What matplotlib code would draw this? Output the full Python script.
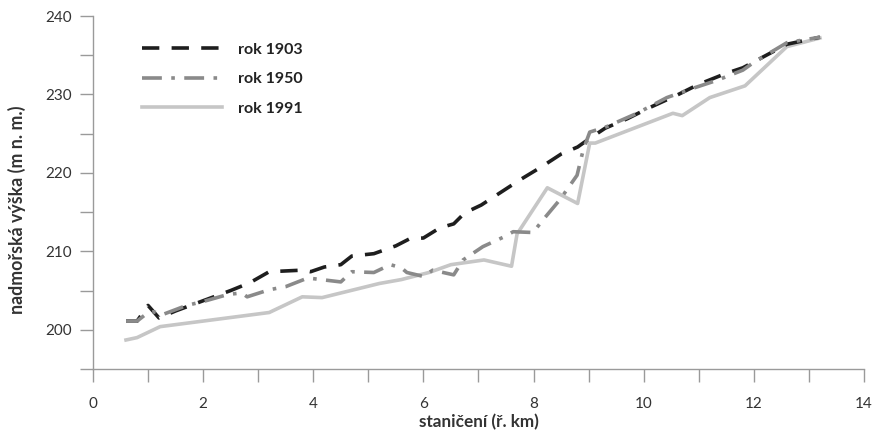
import matplotlib
matplotlib.use("Agg")
import matplotlib.pyplot as plt
from matplotlib.ticker import MultipleLocator, FuncFormatter

plt.rcParams['font.family'] = ['Lato', 'DejaVu Sans']

x1903 = [0.6, 0.8, 1.0, 1.2, 1.5, 2.0, 2.5, 2.85, 3.2, 3.8, 3.95, 4.2, 4.5, 4.7, 5.1, 5.5,
         5.75, 6.0, 6.3, 6.55, 6.75, 7.05, 7.4, 7.75, 8.15, 8.5, 8.8, 9.0, 9.3, 9.7, 10.1,
         10.6, 11.0, 11.5, 11.8, 12.6, 13.2]
y1903 = [201.1, 201.1, 203.1, 201.5, 202.4, 203.7, 205.0, 206.0, 207.4, 207.6, 207.4, 208.0,
         208.3, 209.4, 209.7, 210.7, 211.6, 211.7, 213.0, 213.5, 214.9, 215.9, 217.5, 219.1,
         220.8, 222.4, 223.3, 224.3, 225.7, 226.9, 228.3, 229.9, 231.3, 232.7, 233.4, 236.4,
         237.3]

x1950 = [0.6, 0.8, 1.0, 1.1, 1.25, 1.7, 2.0, 2.45, 2.7, 2.8, 3.2, 3.5, 3.9, 4.5, 4.7, 5.1,
         5.4, 5.6, 5.7, 6.0, 6.17, 6.55, 6.72, 7.08, 7.45, 7.63, 7.99, 8.17, 8.48, 8.79, 8.9,
         9.02, 9.33, 9.88, 10.42, 10.9, 11.33, 11.8, 11.98, 12.6, 13.2]
y1950 = [201.1, 201.1, 202.2, 202.3, 201.9, 203.1, 203.6, 204.5, 204.7, 204.2, 205.1, 205.5,
         206.6, 206.1, 207.4, 207.3, 208.3, 207.9, 207.3, 206.8, 207.6, 207.0, 208.9, 210.6,
         211.8, 212.5, 212.4, 214.0, 216.6, 219.7, 222.9, 225.2, 225.9, 227.6, 229.6, 230.8,
         231.8, 233.1, 234.0, 236.6, 237.3]

x1991 = [0.6, 0.8, 1.22, 3.2, 3.8, 4.16, 5.2, 5.6, 6.1, 6.5, 7.1, 7.6, 7.7, 8.25, 8.8, 9.02,
         9.12, 10.53, 10.7, 11.2, 11.84, 12.6, 13.2]
y1991 = [198.7, 199.0, 200.4, 202.2, 204.2, 204.1, 205.9, 206.4, 207.3, 208.3, 208.9, 208.1,
         212.2, 218.1, 216.1, 223.8, 223.8, 227.6, 227.3, 229.6, 231.1, 236.1, 237.2]

labels = ["rok 1903", "rok 1950", "rok 1991"]

fig = plt.figure(figsize=(8.73, 4.34), dpi=100)
ax = fig.add_axes([0.1065, 0.1498, 0.8832, 0.8133])

ax.plot(x1903, y1903, color="#1e1e1e", lw=2.6, dashes=(4.8, 3.4), label=labels[0], zorder=2,
        dash_capstyle='butt')
ax.plot(x1950, y1950, color="#8a8a8a", lw=2.6, dashes=(5.5, 2.6, 1.0, 2.6), label=labels[1], zorder=3,
        dash_capstyle='butt')
ax.plot(x1991, y1991, color="#c6c6c6", lw=2.6, label=labels[2], zorder=1)

ax.set_xlim(0, 14)
ax.set_ylim(195, 240)
ax.xaxis.set_major_locator(MultipleLocator(1))
ax.yaxis.set_major_locator(MultipleLocator(5))
ax.xaxis.set_major_formatter(FuncFormatter(lambda v, p: f"{int(round(v))}" if round(v) % 2 == 0 else ""))
ax.yaxis.set_major_formatter(FuncFormatter(lambda v, p: f"{int(round(v))}" if round(v) % 10 == 0 and v > 196 else ""))

for s in ["top", "right"]:
    ax.spines[s].set_visible(False)
for s in ["left", "bottom"]:
    ax.spines[s].set_color("#9a9a9a")
    ax.spines[s].set_linewidth(1.0)
ax.tick_params(axis="both", direction="out", length=9.5, width=1.0, color="#9a9a9a",
               labelsize=11, labelcolor="#333333")
ax.tick_params(axis="x", pad=11)
ax.tick_params(axis="y", pad=6)

ax.set_xlabel("staničení (ř. km)", fontsize=12.3, fontweight="bold", color="#333333", labelpad=2)
ax.set_ylabel("nadmořská výška (m n. m.)", fontsize=12.8, fontweight="bold", color="#333333")
ax.yaxis.set_label_coords(-0.087, 0.45)

leg = ax.legend(loc="upper left", bbox_to_anchor=(0.045, 0.965), frameon=False, fontsize=11.5,
                handlelength=5.0, handletextpad=1.0, labelspacing=0.95)
for t in leg.get_texts():
    t.set_fontweight("bold")
    t.set_color("#222222")

fig.savefig("out.png", dpi=100)
